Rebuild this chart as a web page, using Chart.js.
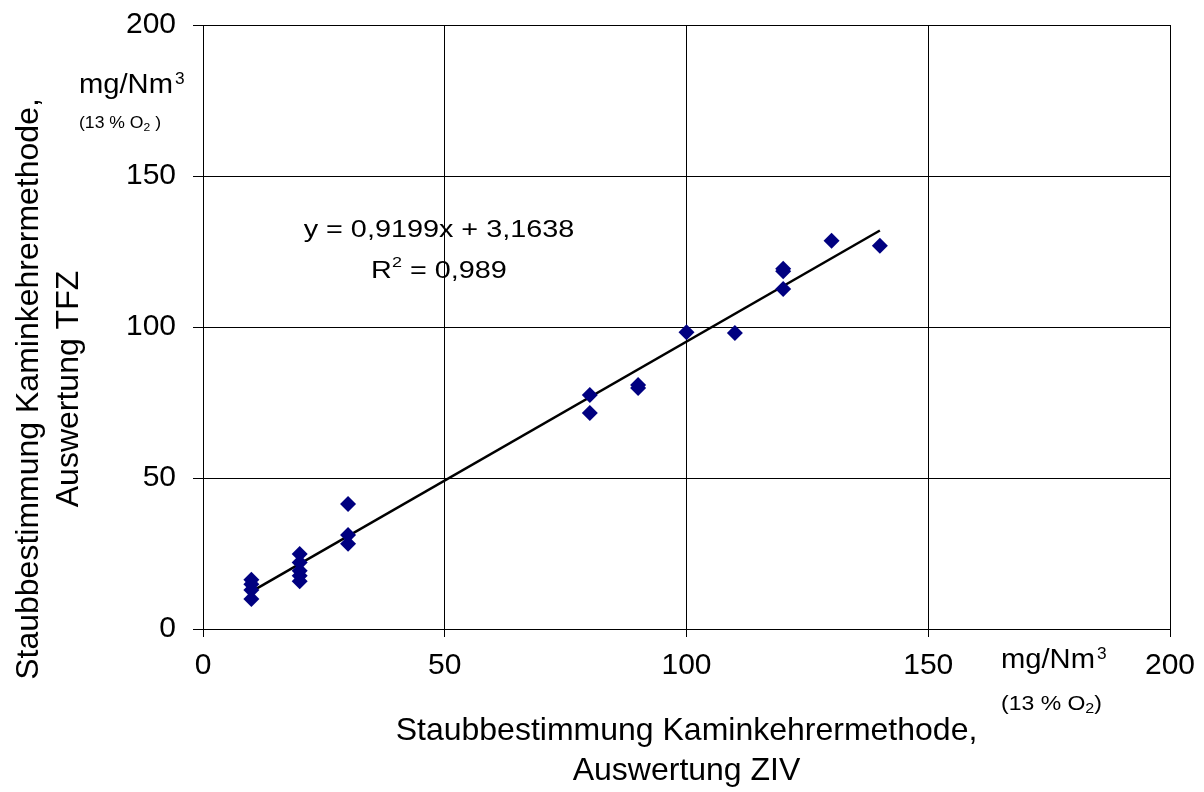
<!DOCTYPE html>
<html>
<head>
<meta charset="utf-8">
<script src="https://cdn.jsdelivr.net/npm/chart.js@4.4.1/dist/chart.umd.min.js"></script>
<style>
  body { margin: 0; background: #fff; }
  #wrap { width: 1204px; height: 792px; }
</style>
</head>
<body>
<div id="wrap"><canvas id="scatter-chart"></canvas></div>
<script>
// measured points: ZIV (x) vs TFZ (y), mg/Nm³ at 13 % O2
const zivValues = [10, 10, 10, 10, 20, 20, 20, 20, 20, 30, 30, 30, 80, 80, 90, 90, 100, 110, 120, 120, 120, 130, 140]
const tfzValues = [16.3, 14.8, 12.9, 9.9, 24.8, 22, 19.3, 17.6, 15.8, 41.4, 31.1, 28.2, 77.5, 71.5, 80.8, 79.8, 98.3, 98, 119.3, 118.5, 112.6, 128.6, 126.9]

// linear trend as printed in the chart
const trendSlope = 0.9199
const trendIntercept = 3.1638
const trendRange = [10, 140]
const equationText = 'y = 0,9199x + 3,1638'
const rSquaredText = ' = 0,989'

const axisMin = 0
const axisMax = 200
const axisStep = 50

const xTitle = ['Staubbestimmung Kaminkehrermethode,', 'Auswertung ZIV']
const yTitle = ['Staubbestimmung Kaminkehrermethode,', 'Auswertung TFZ']

const FONT = '"Liberation Sans", Arial, sans-serif'

const points = zivValues.map((x, i) => ({ x: x, y: tfzValues[i] }))
const trend = trendRange.map(x => ({ x: x, y: trendSlope * x + trendIntercept }))

// draws a row of text pieces (for sub/superscripts)
const drawRuns = (ctx, runs, x, y, align, stretch) => {
  ctx.save()
  ctx.textBaseline = 'middle'
  ctx.fillStyle = '#000'
  let total = 0
  runs.forEach(r => {
    ctx.font = r.size + 'px ' + FONT
    total += ctx.measureText(r.text).width
  })
  ctx.translate(x, y)
  ctx.scale(stretch || 1, 1)
  let cx = align === 'center' ? -total / 2 : 0
  runs.forEach(r => {
    ctx.font = r.size + 'px ' + FONT
    ctx.textAlign = 'left'
    ctx.fillText(r.text, cx + (r.dx || 0), r.dy || 0)
    cx += ctx.measureText(r.text).width + (r.dx || 0)
  })
  ctx.restore()
}

const annotations = {
  id: 'annotations',
  afterDraw(chart) {
    const ctx = chart.ctx
    const xs = chart.scales.x
    const ys = chart.scales.y

    // rotated y title
    ctx.save()
    ctx.translate(0, 389)
    ctx.rotate(-Math.PI / 2)
    ctx.font = '32px ' + FONT
    ctx.textAlign = 'center'
    ctx.textBaseline = 'middle'
    ctx.fillStyle = '#000'
    ctx.fillText(yTitle[0], 0, 29)
    ctx.fillText(yTitle[1], 0, 69)
    ctx.restore()

    // unit labels
    drawRuns(ctx, [{ text: 'mg/Nm', size: 27 }, { text: '3', size: 16, dy: -6, dx: 2 }], 79, 86, 'left', 1.08)
    drawRuns(ctx, [{ text: '(13 % O', size: 16 }, { text: '2', size: 11, dy: 4 }, { text: ' )', size: 16 }], 79, 124, 'left', 1.1)
    drawRuns(ctx, [{ text: 'mg/Nm', size: 27 }, { text: '3', size: 16, dy: -6, dx: 2 }], 1001, 661, 'left', 1.08)
    drawRuns(ctx, [{ text: '(13 % O', size: 20 }, { text: '2', size: 14, dy: 5 }, { text: ')', size: 20 }], 1001, 704, 'left', 1.15)

    // regression text
    const ex = xs.getPixelForValue(48.8)
    drawRuns(ctx, [{ text: equationText, size: 24 }], ex, ys.getPixelForValue(132.1), 'center', 1.2)
    drawRuns(ctx, [{ text: 'R', size: 24 }, { text: '2', size: 15, dy: -9 }, { text: rSquaredText, size: 24 }], ex, ys.getPixelForValue(118.4), 'center', 1.2)
  }
}

const ctx = document.getElementById('scatter-chart').getContext('2d')
const myChart = new Chart(ctx, {
  type: 'scatter',
  data: {
    datasets: [
      {
        label: 'Messwerte',
        data: points,
        pointStyle: 'rectRot',
        pointRadius: 8,
        pointHoverRadius: 8,
        backgroundColor: '#000080',
        borderColor: '#000080',
        borderWidth: 0,
      },
      {
        label: 'Trend',
        type: 'line',
        data: trend,
        borderColor: '#000',
        borderWidth: 2.5,
        pointRadius: 0,
        fill: false,
      },
    ],
  },
  options: {
    responsive: true,
    maintainAspectRatio: false,
    animation: false,
    layout: { padding: { top: 25, right: 34, left: 0, bottom: 0 } },
    plugins: {
      legend: { display: false },
      tooltip: { enabled: false },
    },
    scales: {
      x: {
        type: 'linear',
        min: axisMin,
        max: axisMax,
        ticks: { stepSize: axisStep, color: '#000', font: { family: FONT, size: 30 }, padding: 11, maxRotation: 0 },
        grid: { color: '#000', lineWidth: 1, tickLength: 8, tickColor: '#000' },
        border: { color: '#000', width: 1 },
        title: {
          display: true,
          text: xTitle,
          color: '#000',
          font: { family: FONT, size: 32, lineHeight: 1.25 },
          padding: { top: 0, bottom: 1 },
        },
        afterFit(scale) {
          scale.height = 163
          scale.paddingLeft = 0
          scale.paddingRight = 0
        },
      },
      y: {
        type: 'linear',
        min: axisMin,
        max: axisMax,
        ticks: { stepSize: axisStep, color: '#000', font: { family: FONT, size: 30 }, padding: 17 },
        grid: { color: '#000', lineWidth: 1, tickLength: 10, tickColor: '#000' },
        border: { color: '#000', width: 1 },
        afterFit(scale) {
          scale.width = 203
          scale.paddingTop = 0
          scale.paddingBottom = 0
        },
      },
    },
  },
  plugins: [annotations],
})
</script>
</body>
</html>
